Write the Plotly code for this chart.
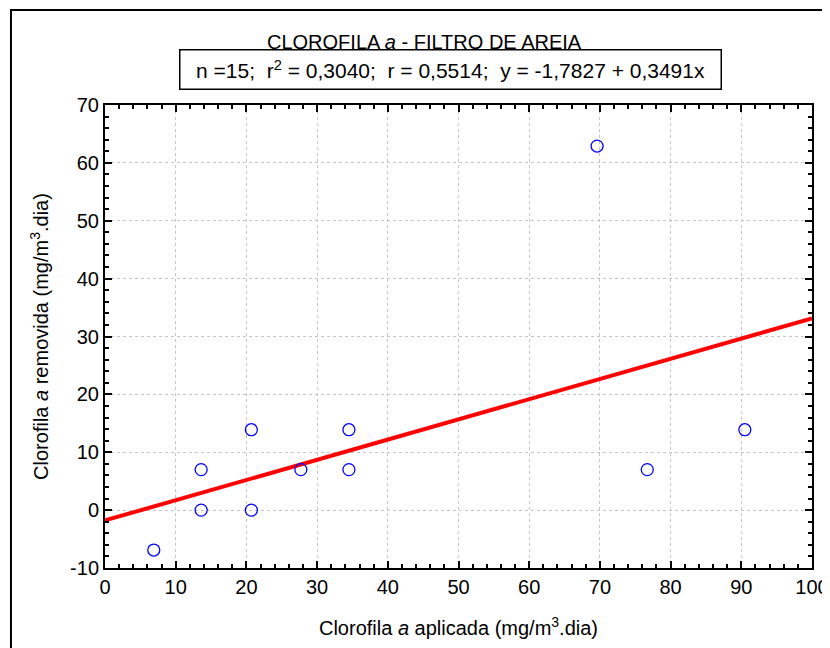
import plotly.graph_objects as go

# Data
chl_applied = [6.9, 13.6, 13.6, 20.7, 20.7, 27.7, 34.5, 34.5, 69.6, 76.7, 90.5]
chl_removed = [-6.9, 7.0, 0.0, 13.9, 0.0, 7.0, 13.9, 7.0, 62.9, 7.0, 13.9]

# Regression coefficients (from chart subtitle)
intercept = -1.7827
slope = 0.3491
fit_x = [0, 100]
fit_y = [intercept + slope * v for v in fit_x]

x_ticks = [0, 10, 20, 30, 40, 50, 60, 70, 80, 90, 100]
y_ticks = [-10, 0, 10, 20, 30, 40, 50, 60, 70]

FONT = "Liberation Sans, Arial, sans-serif"

fig = go.Figure()
fig.add_trace(go.Scatter(
    x=fit_x, y=fit_y, mode="lines",
    line=dict(color="#ff0000", width=4),
    showlegend=False, hoverinfo="skip"))
fig.add_trace(go.Scatter(
    x=chl_applied, y=chl_removed, mode="markers",
    marker=dict(symbol="circle-open", size=12, color="#0000ff",
                line=dict(width=1.3, color="#0000ff")),
    showlegend=False))

axis_common = dict(
    showline=True, linecolor="black", linewidth=2, mirror="allticks",
    ticks="inside", ticklen=7, tickwidth=1.5, tickcolor="black",
    showgrid=True, gridcolor="#c4c4c4", gridwidth=1, griddash="3px,3px",
    zeroline=False,
    tickfont=dict(family=FONT, size=20, color="black"),
)

fig.update_xaxes(
    range=[0, 100], tickvals=x_ticks, ticktext=[str(v) for v in x_ticks],
    minor=dict(dtick=2, ticks="inside", ticklen=4, tickwidth=1.5, tickcolor="black", showgrid=False),
    title=dict(text="Clorofila <i>a</i> aplicada (mg/m<sup>3</sup>.dia)",
               font=dict(family=FONT, size=20, color="black"), standoff=24),
    **axis_common)
fig.update_yaxes(
    range=[-10, 70], tickvals=y_ticks, ticktext=[str(v) for v in y_ticks],
    minor=dict(dtick=2, ticks="inside", ticklen=4, tickwidth=1.5, tickcolor="black", showgrid=False),
    title=dict(text="Clorofila <i>a</i> removida (mg/m<sup>3</sup>.dia)",
               font=dict(family=FONT, size=20, color="black"), standoff=16),
    **axis_common)

fig.update_layout(
    width=822, height=640,
    margin=dict(l=97, r=18, t=97, b=80, autoexpand=False),
    paper_bgcolor="white", plot_bgcolor="white",
    font=dict(family=FONT, color="black"),
    annotations=[
        dict(text="CLOROFILA <i>a</i> - FILTRO DE AREIA", xref="paper", yref="paper",
             x=0.4526, y=1.136, showarrow=False, xanchor="center", yanchor="middle",
             font=dict(family=FONT, size=20, color="black")),
        dict(text="n =15;  r<sup>2</sup> = 0,3040;  r = 0,5514;  y = -1,7827 + 0,3491x",
             xref="paper", yref="paper", x=0.4887, y=1.077, showarrow=False,
             xanchor="center", yanchor="middle", width=536, height=34, borderpad=2,
             bordercolor="black", borderwidth=1.5, bgcolor="white",
             font=dict(family=FONT, size=21, color="black")),
    ],
    shapes=[
        dict(type="rect", xref="paper", yref="paper",
             x0=-0.133, x1=1.1, y0=-0.3, y1=1.205,
             line=dict(color="black", width=2), layer="below"),
    ],
)

fig.write_html("out.html")
